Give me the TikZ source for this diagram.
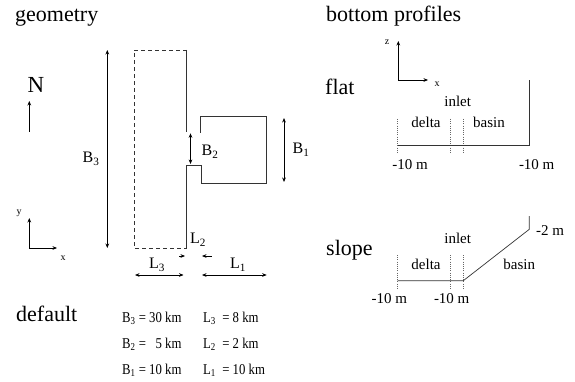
\documentclass[tikz,border=0pt]{standalone}
\usepackage{fontspec}
\setmainfont{Liberation Serif}
\newfontfamily\condfont[FakeStretch=0.85]{Liberation Serif}
\usetikzlibrary{arrows.meta}
\begin{document}
\begin{tikzpicture}[x=1pt,y=-1pt,
  wall/.style={line width=0.7pt, draw=black!80},
  openb/.style={line width=0.7pt, draw=black!80, dash pattern=on 4pt off 3pt},
  dim/.style={line width=0.6pt, {Stealth[length=4.5pt,width=3.6pt]}-{Stealth[length=4.5pt,width=3.6pt]}},
  onearrow/.style={line width=0.6pt, -{Stealth[length=4.5pt,width=3.6pt]}},
  title/.style={font=\fontsize{22}{26}\selectfont, inner sep=0pt, anchor=base west},
  lab/.style={font=\fontsize{16}{19}\selectfont, inner sep=0pt},
  prof/.style={font=\fontsize{15}{18}\selectfont, inner sep=0pt},
  smalllab/.style={font=\fontsize{10}{12}\selectfont, inner sep=0pt},
  tab/.style={font=\condfont\fontsize{15}{18}\selectfont, inner sep=0pt, anchor=base west},
  dotl/.style={line width=0.5pt, draw=black!60, dash pattern=on 0.8pt off 1.4pt}]
\useasboundingbox (0,0) rectangle (575,382);
\fill[white] (0,0) rectangle (575,382);

% ---------- titles ----------
\node[title] (tgeo) at (15,22) {geometry};
\node[title] (tbot) at (326,22) {bottom profiles};
\node[title] (tflat) at (325,95) {flat};
\node[title] (tslope) at (326,255) {slope};
\node[title] (tdef) at (16,321) {default};

% ---------- north ----------
\node[font=\fontsize{23}{27}\selectfont, inner sep=0pt, anchor=base] (north) at (36,93) {N};
\coordinate (nA) at (29.3,132);
\coordinate (nB) at (29.3,101);
\draw[onearrow] (nA) -- (nB);

% ---------- x-y axes ----------
\coordinate (o1) at (29.3,248);
\coordinate (o1y) at (29.3,218);
\coordinate (o1x) at (57,248);
\draw[onearrow] (o1) -- (o1y);
\draw[onearrow] (o1) -- (o1x);
\node[smalllab] (ly) at (19,213) {y};
\node[smalllab] (lx) at (63,258) {x};

% ---------- geometry ----------
\coordinate (dTL) at (134,50);
\coordinate (dTR) at (186.7,50);
\coordinate (dBL) at (134,248);
\coordinate (dBR) at (186.7,248);
\coordinate (wUp) at (186.7,132.3);
\coordinate (wLo) at (186.7,165.7);
\coordinate (i1) at (201,165.7);
\coordinate (i2) at (201,183);
\coordinate (i3) at (266.7,183);
\coordinate (i4) at (266.7,116);
\coordinate (i5) at (200.7,116);
\coordinate (i6) at (200.7,133);
\draw[openb] (dTR) -- (dTL) -- (dBL) -- (dBR);
\draw[wall] (dTR) -- (wUp);
\draw[wall] (dBR) -- (wLo) -- (i1) -- (i2) -- (i3) -- (i4) -- (i5) -- (i6);

% B3
\coordinate (b3a) at (107.3,50);
\coordinate (b3b) at (107.3,248);
\draw[dim] (b3a) -- (b3b);
\node[lab] (lB3) at (91,159) {B\textsubscript{3}};
% B2
\coordinate (b2a) at (190.5,133.3);
\coordinate (b2b) at (190.5,164);
\draw[dim] (b2a) -- (b2b);
\node[lab] (lB2) at (210,152) {B\textsubscript{2}};
% B1
\coordinate (b1a) at (284,118);
\coordinate (b1b) at (284,182);
\draw[dim] (b1a) -- (b1b);
\node[lab] (lB1) at (301,150) {B\textsubscript{1}};
% L3
\coordinate (l3a) at (135,275);
\coordinate (l3b) at (183.5,275);
\draw[dim] (l3a) -- (l3b);
\node[lab] (lL3) at (157,265) {L\textsubscript{3}};
% L1
\coordinate (l1a) at (202,275);
\coordinate (l1b) at (266.7,275);
\draw[dim] (l1a) -- (l1b);
\node[lab] (lL1) at (238,265) {L\textsubscript{1}};
% L2
\node[lab] (lL2) at (198,240) {L\textsubscript{2}};
\coordinate (l2a) at (179,256);
\coordinate (l2b) at (185,256);
\coordinate (l2c) at (211.7,256);
\coordinate (l2d) at (202,256);
\draw[onearrow] (l2a) -- (l2b);
\draw[onearrow] (l2c) -- (l2d);

% ---------- default table ----------
\node[tab] (r1a) at (122,322) {B\textsubscript{3} = 30 km};
\node[tab] (r2a) at (122,348) {B\textsubscript{2} = \phantom{0}5 km};
\node[tab] (r3a) at (122,374) {B\textsubscript{1} = 10 km};
\node[tab] (r1b) at (203,322) {L\textsubscript{3} \ = 8 km};
\node[tab] (r2b) at (203,348) {L\textsubscript{2} \ = 2 km};
\node[tab] (r3b) at (203,374) {L\textsubscript{1} \ = 10 km};

% ---------- flat profile ----------
\coordinate (o2) at (398.3,80);
\coordinate (o2z) at (398.3,41);
\coordinate (o2x) at (428,80);
\draw[onearrow] (o2) -- (o2z);
\draw[onearrow] (o2) -- (o2x);
\node[smalllab] (lz) at (387,42) {z};
\node[smalllab] (lx2) at (437,84) {x};

\node[prof] (finlet) at (457.7,101.7) {inlet};
\node[prof] (fdelta) at (426,122.7) {delta};
\node[prof] (fbasin) at (489,122.7) {basin};
\foreach \xx/\nm in {397.7/fa,450.7/fb,463.3/fc}{
  \coordinate (\nm1) at (\xx,119);
  \coordinate (\nm2) at (\xx,154);
  \draw[dotl] (\nm1) -- (\nm2);
}
\coordinate (f1) at (397.7,145.7);
\coordinate (f2) at (529.3,145.7);
\coordinate (f3) at (529.3,80);
\draw[wall] (f1) -- (f2) -- (f3);
\node[prof] (fm1) at (410,164.3) {-10 m};
\node[prof] (fm2) at (536.7,164.3) {-10 m};

% ---------- slope profile ----------
\node[prof] (sinlet) at (457.7,238.3) {inlet};
\node[prof] (sdelta) at (426,264) {delta};
\node[prof] (sbasin) at (519.3,264) {basin};
\foreach \xx/\nm in {397.7/sa,450.7/sb,463.3/sc}{
  \coordinate (\nm1) at (\xx,255);
  \coordinate (\nm2) at (\xx,288.3);
  \draw[dotl] (\nm1) -- (\nm2);
}
\coordinate (s1) at (397.7,280.7);
\coordinate (s2) at (463.3,280.7);
\coordinate (s3) at (529.3,229.3);
\coordinate (s4) at (529.3,216);
\draw[wall] (s1) -- (s2) -- (s3) -- (s4);
\node[prof] (sm2) at (550,230.7) {-2 m};
\node[prof] (sm1) at (389.3,298.3) {-10 m};
\node[prof] (sm3) at (451.7,298.3) {-10 m};
\end{tikzpicture}
\end{document}
